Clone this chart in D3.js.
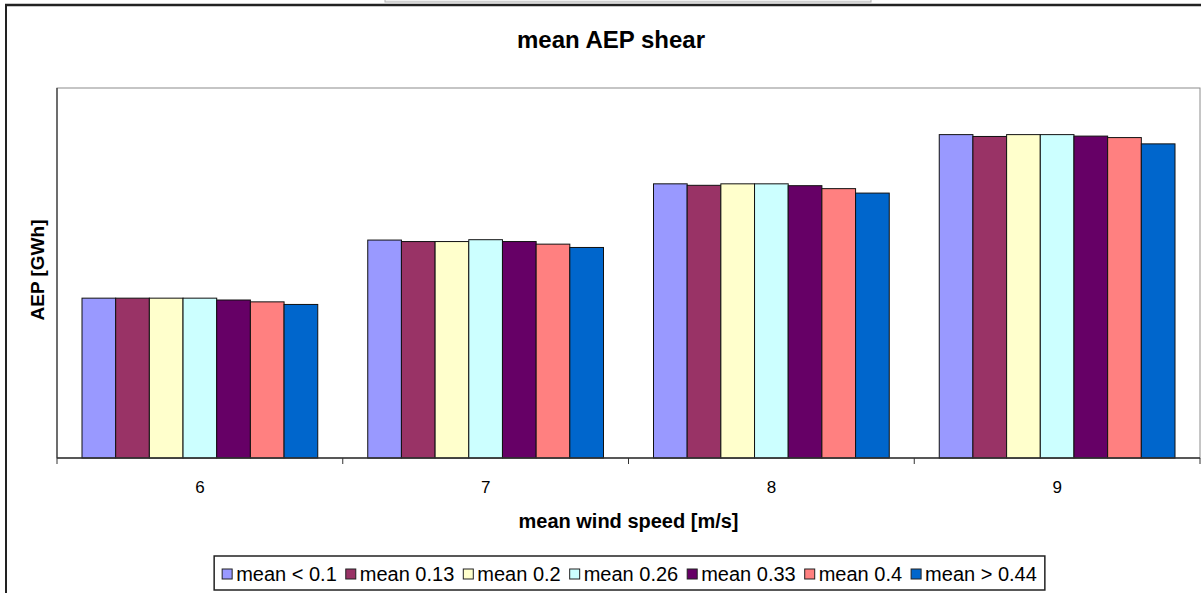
<!DOCTYPE html>
<html>
<head>
<meta charset="utf-8">
<script src="https://cdnjs.cloudflare.com/ajax/libs/d3/7.8.5/d3.min.js"></script>
<style>
  body { margin: 0; background: #fff; }
  svg { display: block; font-family: "Liberation Sans", Arial, sans-serif; }
</style>
</head>
<body>
<svg id="graphContainer" width="1201" height="593"></svg>
<script>
let windSpeeds = ["6", "7", "8", "9"];

let seriesNames = ["mean < 0.1", "mean 0.13", "mean 0.2", "mean 0.26", "mean 0.33", "mean 0.4", "mean > 0.44"];

let seriesColors = ["#9999FF", "#993366", "#FFFFCC", "#CCFFFF", "#660066", "#FF8080", "#0066CC"];

// AEP [GWh] per wind speed, one array per shear class
let aepLow  = [4.32, 5.89, 7.41, 8.74];
let aep013  = [4.32, 5.85, 7.37, 8.69];
let aep02   = [4.32, 5.85, 7.41, 8.74];
let aep026  = [4.32, 5.90, 7.41, 8.74];
let aep033  = [4.27, 5.85, 7.36, 8.70];
let aep04   = [4.22, 5.78, 7.28, 8.66];
let aepHigh = [4.15, 5.69, 7.16, 8.49];

let allSeries = [aepLow, aep013, aep02, aep026, aep033, aep04, aepHigh];

let yMax = 10;

// set the dimensions and margins of the graph
let margin = {top: 88, right: 1, bottom: 135, left: 57},
    width = 1201 - margin.left - margin.right,
    height = 593 - margin.top - margin.bottom;

let root = d3.select("#graphContainer");

// outer frame of the chart sheet
root.append("rect")
  .attr("x", 385).attr("y", -2)
  .attr("width", 486).attr("height", 4)
  .attr("fill", "#f0f0f0")
  .attr("stroke", "#b0b0b0");
root.append("line")
  .attr("x1", 5).attr("x2", 1201)
  .attr("y1", 5).attr("y2", 5)
  .attr("stroke", "#222").attr("stroke-width", 2.5);
root.append("line")
  .attr("x1", 6).attr("x2", 6)
  .attr("y1", 5).attr("y2", 593)
  .attr("stroke", "#222").attr("stroke-width", 2);

// title
root.append("text")
  .attr("x", 611)
  .attr("y", 48)
  .attr("text-anchor", "middle")
  .style("font-size", "24px")
  .style("font-weight", "bold")
  .text("mean AEP shear");

let svg = root.append("g")
  .attr("transform", "translate(" + margin.left + "," + margin.top + ")");

// plot area border
svg.append("rect")
  .attr("x", 0).attr("y", 0)
  .attr("width", width).attr("height", height)
  .attr("fill", "none")
  .attr("stroke", "#8c8c8c");

// X axis
let x = d3.scaleBand()
  .range([0, width])
  .domain(windSpeeds)
  .paddingInner(0)
  .paddingOuter(0);

let xSub = d3.scaleBand()
  .domain(d3.range(seriesNames.length))
  .range([25, x.bandwidth() - 25]);

// Y axis (no tick labels in the original)
let y = d3.scaleLinear()
  .domain([0, yMax])
  .range([height, 0]);

let groups = svg.selectAll("g.group")
  .data(windSpeeds)
  .enter()
  .append("g")
    .attr("class", "group")
    .attr("transform", function(d) { return "translate(" + x(d) + ",0)"; });

groups.selectAll("rect")
  .data(function(d, i) {
    return allSeries.map(function(s, k) { return {k: k, value: s[i]}; });
  })
  .enter()
  .append("rect")
    .attr("x", function(d) { return xSub(d.k); })
    .attr("y", function(d) { return y(d.value); })
    .attr("width", xSub.bandwidth())
    .attr("height", function(d) { return height - y(d.value); })
    .attr("fill", function(d) { return seriesColors[d.k]; })
    .attr("stroke", "#111")
    .attr("stroke-width", 1);

// category boundary ticks + axis line
let boundaries = d3.range(windSpeeds.length + 1).map(function(i) { return i * x.step(); });
svg.selectAll("line.btick")
  .data(boundaries)
  .enter()
  .append("line")
    .attr("class", "btick")
    .attr("x1", function(d) { return d; })
    .attr("x2", function(d) { return d; })
    .attr("y1", height)
    .attr("y2", height + 6)
    .attr("stroke", "#333");

svg.append("line")
  .attr("x1", 0).attr("x2", width)
  .attr("y1", height).attr("y2", height)
  .attr("stroke", "#333").attr("stroke-width", 1.5);
svg.append("line")
  .attr("x1", 0).attr("x2", 0)
  .attr("y1", 0).attr("y2", height)
  .attr("stroke", "#333").attr("stroke-width", 1.2);

svg.selectAll("text.xlab")
  .data(windSpeeds)
  .enter()
  .append("text")
    .attr("class", "xlab")
    .attr("x", function(d) { return x(d) + x.bandwidth() / 2; })
    .attr("y", height + 35)
    .attr("text-anchor", "middle")
    .style("font-size", "17px")
    .text(function(d) { return d; });

// axis titles
svg.append("text")
  .attr("x", width / 2)
  .attr("y", height + 70)
  .attr("text-anchor", "middle")
  .style("font-size", "20px")
  .style("font-weight", "bold")
  .text("mean wind speed [m/s]");

svg.append("text")
  .attr("transform", "translate(-13," + (height / 2 - 3) + ") rotate(-90)")
  .attr("text-anchor", "middle")
  .style("font-size", "19px")
  .style("font-weight", "bold")
  .text("AEP [GWh]");

// legend
let legend = root.append("g");
let legendBox = legend.append("rect")
  .attr("fill", "#fff")
  .attr("stroke", "#222")
  .attr("stroke-width", 1.5);

let cursor = 0;
seriesNames.forEach(function(name, k) {
  let item = legend.append("g").attr("transform", "translate(" + cursor + ",0)");
  item.append("rect")
    .attr("x", 0).attr("y", -12)
    .attr("width", 10).attr("height", 10)
    .attr("fill", seriesColors[k])
    .attr("stroke", "#222");
  let t = item.append("text")
    .attr("x", 14).attr("y", 0)
    .style("font-size", "20px")
    .text(name);
  cursor += 14 + t.node().getComputedTextLength() + 9;
});
cursor -= 9;

let legendLeft = 629.5 - cursor / 2;
legend.attr("transform", "translate(" + legendLeft + ",581)");
legendBox
  .attr("x", -8).attr("y", -25)
  .attr("width", cursor + 16).attr("height", 34);
</script>
</body>
</html>
